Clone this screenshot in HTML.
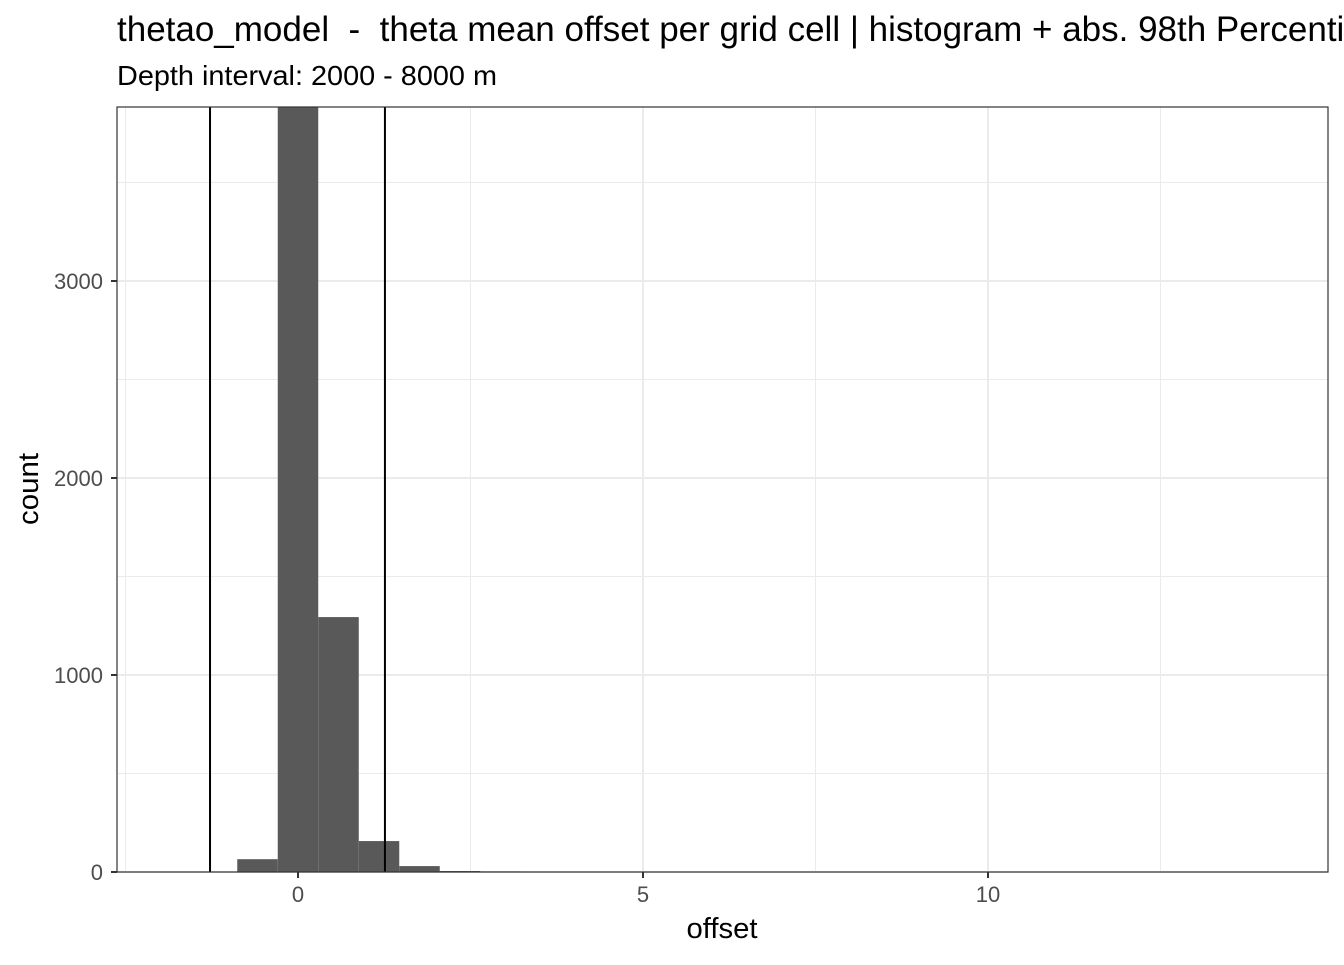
<!DOCTYPE html>
<html><head><meta charset="utf-8"><style>
body{margin:0;background:#fff;font-family:"Liberation Sans",sans-serif}
text{white-space:pre}
</style></head><body>
<svg id="chart" width="1344" height="960" xmlns="http://www.w3.org/2000/svg" font-family="Liberation Sans, sans-serif">
<text x="117" y="41" font-size="35" fill="#000" xml:space="preserve">thetao_model  -  theta mean offset per grid cell | histogram + abs. 98th Percentile</text>
<text x="117" y="85" font-size="28" fill="#000" textLength="380" lengthAdjust="spacingAndGlyphs">Depth interval: 2000 - 8000 m</text>
<defs><clipPath id="pc"><rect x="117" y="107" width="1211" height="765"/></clipPath></defs>
<rect x="117" y="107" width="1211" height="765" fill="#fff"/>
<g id="grid"></g>
<g id="bars" clip-path="url(#pc)"></g>
<g id="vlines" clip-path="url(#pc)"></g>
<rect x="117" y="107" width="1211" height="765" fill="none" stroke="#333" stroke-width="1.2"/>
<g id="axes"></g>
<text x="722" y="938" font-size="29" text-anchor="middle" fill="#000" textLength="71" lengthAdjust="spacingAndGlyphs">offset</text>
<text transform="translate(38,489) rotate(-90)" font-size="29" text-anchor="middle" fill="#000" textLength="72" lengthAdjust="spacingAndGlyphs">count</text>
</svg>
<script>
const binWidth = 0.587;
const binIndex = [-1, 0, 1, 2, 3, 4, 5];
const counts = [65, 4500, 1294, 157, 30, 5, 3];
const percentileLines = [-1.275, 1.26];
const xTicks = [0, 5, 10];
const yTicks = [0, 1000, 2000, 3000];
const xMinor = [-2.5, 2.5, 7.5, 12.5];
const yMinor = [500, 1500, 2500, 3500];

const NS = "http://www.w3.org/2000/svg";
const X = v => 298 + v * 69;
const Y = v => 872 - v * 0.197;
function mk(tag, attrs, parent) {
  const e = document.createElementNS(NS, tag);
  for (const k in attrs) e.setAttribute(k, attrs[k]);
  parent.appendChild(e);
  return e;
}
const grid = document.getElementById('grid');
xMinor.forEach(v => {
  const l = mk('line', {x1: X(v), x2: X(v), y1: 107, y2: 872, stroke: '#ebebeb', 'stroke-width': 1}, grid);
  
  
});
yMinor.forEach(v => {
  const l = mk('line', {x1: 117, x2: 1328, y1: Y(v), y2: Y(v), stroke: '#ebebeb', 'stroke-width': 1}, grid);
  
  
});
xTicks.forEach(v => {
  const l = mk('line', {x1: X(v), x2: X(v), y1: 107, y2: 872, stroke: '#ebebeb', 'stroke-width': 2}, grid);
  
  
});
yTicks.forEach(v => {
  const l = mk('line', {x1: 117, x2: 1328, y1: Y(v), y2: Y(v), stroke: '#ebebeb', 'stroke-width': 2}, grid);
  
  
});
const bars = document.getElementById('bars');
binIndex.forEach((k, i) => {
  const x0 = X((k - 0.5) * binWidth), x1 = X((k + 0.5) * binWidth);
  const r = mk('rect', {x: x0, y: Y(counts[i]), width: x1 - x0, height: Y(0) - Y(counts[i]), fill: '#595959'}, bars);
  
  
});
const vl = document.getElementById('vlines');
percentileLines.forEach(v => {
  const l = mk('line', {x1: X(v), x2: X(v), y1: 107, y2: 872, stroke: '#000', 'stroke-width': 2}, vl);
  
  
});
const axes = document.getElementById('axes');
xTicks.forEach(v => {
  const t = mk('line', {x1: X(v), x2: X(v), y1: 872, y2: 878, stroke: '#333', 'stroke-width': 2}, axes);
  
  
  const tx = mk('text', {x: X(v), y: 902, 'font-size': 22, 'text-anchor': 'middle', fill: '#4d4d4d'}, axes);
  tx.textContent = v;
  
  
});
yTicks.forEach(v => {
  const t = mk('line', {x1: 111, x2: 117, y1: Y(v), y2: Y(v), stroke: '#333', 'stroke-width': 2}, axes);
  
  
  const tx = mk('text', {x: 103, y: Y(v) + 8, 'font-size': 22, 'text-anchor': 'end', fill: '#4d4d4d'}, axes);
  tx.textContent = v;
  
  
});
</script>
</body></html>
